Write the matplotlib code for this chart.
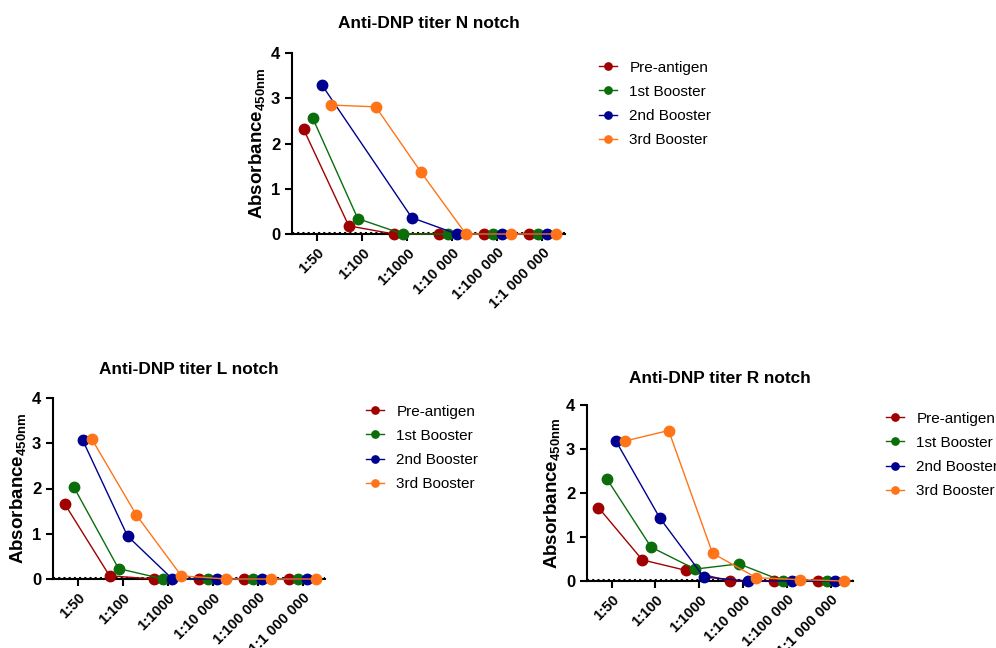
import numpy as np
import matplotlib
matplotlib.use("Agg")
import matplotlib.pyplot as plt

plt.rcParams['font.family'] = ['Liberation Sans', 'DejaVu Sans']
plt.rcParams['mathtext.fontset'] = 'custom'
plt.rcParams['mathtext.bf'] = 'Liberation Sans:bold'
plt.rcParams['mathtext.rm'] = 'Liberation Sans:bold'
plt.rcParams['mathtext.default'] = 'bf'

dilutions = ["1:50", "1:100", "1:1000", "1:10 000", "1:100 000", "1:1 000 000"]
groups = ["Pre-antigen", "1st Booster", "2nd Booster", "3rd Booster"]
colors = ["#a00000", "#0b6e0b", "#000090", "#ff7418"]

# absorbance per notch, one list per group (nan = not measured)
n_pre = [2.31, 0.18, 0.0, 0.0, 0.0, 0.0]
n_1st = [2.56, 0.34, 0.0, 0.0, 0.0, 0.0]
n_2nd = [3.30, np.nan, 0.36, 0.0, 0.0, 0.0]
n_3rd = [2.85, 2.81, 1.37, 0.0, 0.0, 0.0]

l_pre = [1.66, 0.07, 0.0, 0.0, 0.0, 0.0]
l_1st = [2.04, 0.23, 0.0, 0.0, 0.0, 0.0]
l_2nd = [3.07, 0.95, 0.0, 0.0, 0.0, 0.0]
l_3rd = [3.10, 1.41, 0.07, 0.0, 0.0, 0.0]

r_pre = [1.67, 0.48, 0.24, 0.0, 0.0, 0.0]
r_1st = [2.31, 0.77, 0.27, 0.39, 0.0, 0.0]
r_2nd = [3.18, 1.43, 0.09, 0.0, 0.0, 0.0]
r_3rd = [3.18, 3.42, 0.63, 0.075, 0.03, 0.0]

offsets = [-0.3, -0.1, 0.1, 0.3]

W, H = 996, 648
fig = plt.figure(figsize=(W / 100, H / 100), dpi=100)


def titer_panel(left, right, y0, y4, title, series, legend_xy, title_pad=18):
    ax = fig.add_axes([left / W, 1 - y0 / H, (right - left) / W, (y0 - y4) / H])
    x = np.arange(len(dilutions))
    for vals, name, col, off in zip(series, groups, colors, offsets):
        vals = np.array(vals, dtype=float)
        ok = ~np.isnan(vals)
        ax.plot(x[ok] + off, vals[ok], '-o', color=col, lw=1.0, ms=7.5,
                label=name, clip_on=False, zorder=3)
    ax.set_xlim(-0.56, 5.5)
    ax.set_ylim(0, 4)
    ax.set_yticks([0, 1, 2, 3, 4])
    ax.set_xticks(x)
    ax.set_xticklabels(dilutions, rotation=45, ha='right', rotation_mode='anchor',
                       fontweight='bold', fontsize=10.5)
    for lab in ax.get_yticklabels():
        lab.set_fontweight('bold')
        lab.set_fontsize(12)
    ax.tick_params(axis='both', direction='out', width=1.5, length=5)
    ax.spines['top'].set_visible(False)
    ax.spines['right'].set_visible(False)
    ax.spines['left'].set_linewidth(1.5)
    ax.spines['bottom'].set_linewidth(1.5)
    # dotted baseline along y = 0
    ax.axhline(0.03, color='black', lw=1.5, ls=(0, (1, 1.5)), zorder=2, clip_on=False)
    ax.set_ylabel("Absorbance$_{450nm}$", fontsize=13.5, fontweight='bold', labelpad=3)
    ax.set_title(title, fontsize=12.4, fontweight='bold', pad=title_pad)
    ax.legend(loc='upper left', bbox_to_anchor=(legend_xy[0] / W, 1 - legend_xy[1] / H),
              bbox_transform=fig.transFigure, frameon=False, fontsize=11,
              handlelength=1.2, handletextpad=0.8, labelspacing=0.66, markerscale=0.7)
    return ax


titer_panel(292, 565, 234, 53, "Anti-DNP titer N notch",
            [n_pre, n_1st, n_2nd, n_3rd], (585, 47))
titer_panel(53, 325, 579, 398, "Anti-DNP titer L notch",
            [l_pre, l_1st, l_2nd, l_3rd], (352, 391), title_pad=17)
titer_panel(587, 853, 581, 405, "Anti-DNP titer R notch",
            [r_pre, r_1st, r_2nd, r_3rd], (872, 398), title_pad=16)

fig.savefig("out.png", dpi=100)
